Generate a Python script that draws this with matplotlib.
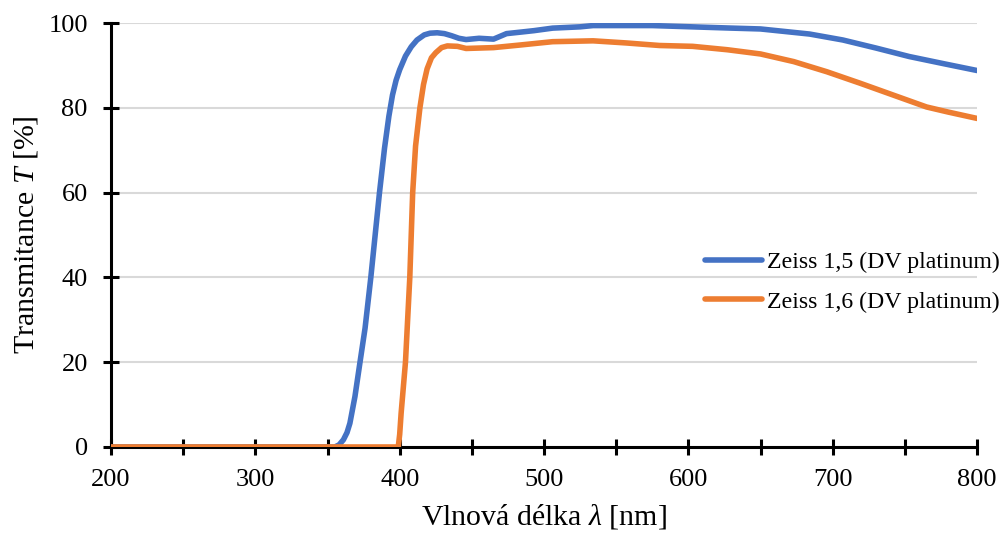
import matplotlib
import matplotlib.pyplot as plt

matplotlib.use("Agg")

# Zeiss 1,5 (DV platinum)
wl_15 = [200, 355, 358, 361, 363.5, 365.5, 369, 372.5, 376, 380, 383, 386, 389.5, 392.5, 395, 397.5,
         400, 404, 408, 412, 417, 421, 426, 431, 436, 441, 446, 455, 465, 474, 485, 493,
         506, 525, 534, 575, 630, 650, 684, 707, 730, 753, 777, 800]
t_15 = [0, 0, 0.5, 1.7, 3.4, 5.6, 11.9, 20, 28, 40, 50, 60, 70.5, 78, 83, 86.5,
        89, 92.2, 94.4, 96.0, 97.2, 97.6, 97.7, 97.5, 97.0, 96.4, 96.1, 96.4, 96.2, 97.5, 97.9, 98.2,
        98.8, 99.1, 99.4, 99.4, 98.8, 98.6, 97.4, 96.0, 94.1, 92.1, 90.4, 88.8]

# Zeiss 1,6 (DV platinum)
wl_16 = [200, 399, 400, 401, 402.5, 404, 405.5, 407, 408, 409, 411, 414, 416.5, 419, 422,
         425, 429, 433, 440, 446, 465, 483, 506, 534, 557, 580, 603, 627, 650, 673,
         696, 719, 742, 765, 780, 800]
t_16 = [0, 0, 3, 8, 14, 20, 30, 40, 50, 60, 71, 80, 85.5, 89.2, 91.8,
        93.0, 94.2, 94.6, 94.5, 94.0, 94.2, 94.8, 95.6, 95.8, 95.3, 94.7, 94.5, 93.7, 92.7, 90.9,
        88.5, 85.8, 83.0, 80.2, 79.0, 77.5]

labels = ["Zeiss 1,5 (DV platinum)", "Zeiss 1,6 (DV platinum)"]
x_ticks = list(range(200, 801, 50))
y_ticks = [0, 20, 40, 60, 80, 100]

plt.rcParams["font.family"] = ["Liberation Serif", "DejaVu Serif"]
plt.rcParams["mathtext.fontset"] = "custom"
plt.rcParams["mathtext.it"] = "Liberation Serif:italic"
plt.rcParams["mathtext.rm"] = "Liberation Serif"

fig = plt.figure(figsize=(10.03, 5.33), dpi=100)
ax = fig.add_axes([0.1107, 0.1614, 0.8634, 0.7954])

ax.plot(wl_15, t_15, color="#4472C4", lw=4.0, label=labels[0], solid_capstyle="round",
        solid_joinstyle="round", zorder=3)
ax.plot(wl_16, t_16, color="#ED7D31", lw=4.0, label=labels[1], solid_capstyle="round",
        solid_joinstyle="round", zorder=4)

ax.set_xlim(200, 800)
ax.set_ylim(0, 100)
ax.set_xticks(x_ticks)
ax.set_xticklabels([str(v) if v % 100 == 0 else "" for v in x_ticks])
ax.set_yticks(y_ticks)
ax.grid(axis="y", color="#d9d9d9", lw=1.5, zorder=0)
ax.set_axisbelow(True)

for s in ["top", "right"]:
    ax.spines[s].set_visible(False)
for s in ["left", "bottom"]:
    ax.spines[s].set_linewidth(2.2)
    ax.spines[s].set_color("black")
    ax.spines[s].set_zorder(2)

ax.tick_params(axis="both", direction="inout", length=11.5, width=2.2, labelsize=19, colors="black")
ax.tick_params(axis="x", pad=10)
ax.tick_params(axis="y", pad=11)

ax.set_xlabel(r"Vlnová délka $\mathit{\lambda}$ [nm]", fontsize=21.5, labelpad=8)
ax.set_ylabel(r"Transmitance $\mathit{T}$ [%]", fontsize=21.5, labelpad=6)

ax.legend(loc="center left", bbox_to_anchor=(0.686, 0.389), frameon=False, fontsize=17.2,
          handlelength=2.4, handletextpad=0.2, labelspacing=0.75, borderpad=0, borderaxespad=0)

fig.savefig("out.png", dpi=100)
